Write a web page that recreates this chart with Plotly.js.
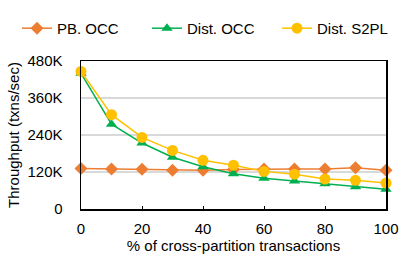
<!DOCTYPE html>
<html>
<head>
<meta charset="utf-8">
<script src="https://cdn.plot.ly/plotly-3.0.1.min.js"></script>
<style>html,body{margin:0;padding:0;background:#fff;}#chart{width:407px;height:255px;}</style>
</head>
<body>
<div id="chart"></div>
<script>
const xPct = [0, 10, 20, 30, 40, 50, 60, 70, 80, 90, 100];
const pbOcc = [131000, 130000, 129000, 126000, 126000, 128000, 130000, 130000, 130000, 134000, 126000];
const distOcc = [440000, 275000, 214000, 168000, 137000, 114000, 100000, 91000, 82000, 72000, 64000];
const distS2pl = [446000, 306000, 232000, 190000, 158000, 142000, 122000, 113000, 97000, 93000, 84000];
const yTickVals = [0, 120000, 240000, 360000, 480000];
const yTickText = ["0", "120K", "240K", "360K", "480K"];
const xTickVals = [0, 20, 40, 60, 80, 100];

const font = "Liberation Sans, Arial, sans-serif";
const fs = 15;
const traces = [
  {x: xPct, y: pbOcc, name: "PB. OCC", mode: "lines+markers", cliponaxis: false,
   line: {color: "#ED7D31", width: 1.5}, marker: {symbol: "diamond", size: 10, color: "#ED7D31"}},
  {x: xPct, y: distOcc, name: "Dist. OCC", mode: "lines+markers", cliponaxis: false,
   line: {color: "#00B050", width: 1.5}, marker: {symbol: "triangle-up", size: 10, color: "#00B050"}},
  {x: xPct, y: distS2pl, name: "Dist. S2PL", mode: "lines+markers", cliponaxis: false,
   line: {color: "#FFC000", width: 1.5}, marker: {symbol: "circle", size: 11, color: "#FFC000"}}
];
const layout = {
  width: 407, height: 255,
  margin: {l: 81, r: 21, t: 43, b: 46},
  paper_bgcolor: "#fff", plot_bgcolor: "#fff",
  font: {family: font, size: fs, color: "#000"},
  showlegend: true,
  legend: {orientation: "h", x: -0.18, y: 1.22, xanchor: "left", yanchor: "middle",
           font: {family: font, size: fs, color: "#000"}, bgcolor: "rgba(0,0,0,0)",
           entrywidth: 85, itemwidth: 30, traceorder: "normal"},
  xaxis: {range: [0, 100], tickvals: xTickVals, showgrid: false, zeroline: false,
          showline: true, linecolor: "#000", linewidth: 1.5, mirror: true,
          ticks: "inside", ticklen: 3, tickcolor: "#000",
          tickfont: {family: font, size: fs}, ticklabelstandoff: 5,
          title: {text: "% of cross-partition transactions", font: {family: font, size: fs}, standoff: 2}},
  yaxis: {range: [0, 480000], tickvals: yTickVals, ticktext: yTickText,
          showgrid: true, gridcolor: "#d9d9d9", gridwidth: 1.5, zeroline: false,
          showline: true, linecolor: "#000", linewidth: 1.5, mirror: true,
          ticks: "", tickfont: {family: font, size: fs}, ticklabelstandoff: 14,
          title: {text: "Throughput (txns/sec)", font: {family: font, size: fs}, standoff: 4}}
};
Plotly.newPlot("chart", traces, layout, {displayModeBar: false, staticPlot: true});
</script>
</body>
</html>
